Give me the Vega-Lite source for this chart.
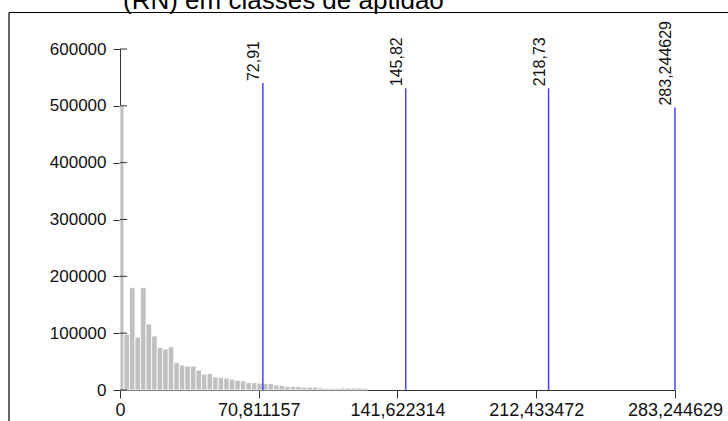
{
  "$schema": "https://vega.github.io/schema/vega-lite/v6.json",
  "width": 555,
  "height": 341,
  "autosize": {"type": "none"},
  "padding": {"left": 120, "top": 49, "right": 53, "bottom": 31},
  "background": "white",
  "config": {"view": {"stroke": null}, "font": "Liberation Sans"},
  "title": {
    "text": "(RN) em classes de aptidão",
    "font": "Liberation Sans",
    "fontSize": 26,
    "fontWeight": "normal",
    "color": "#000000",
    "anchor": "start",
    "frame": "group",
    "baseline": "alphabetic",
    "offset": 0,
    "dx": 3,
    "dy": 23
  },
  "datasets": {
    "bins": [
      {"x0": 0, "x1": 2, "count": 500000},
      {"x0": 2, "x1": 4.83, "count": 98000},
      {"x0": 4.83, "x1": 7.66, "count": 180000},
      {"x0": 7.66, "x1": 10.49, "count": 93000},
      {"x0": 10.49, "x1": 13.32, "count": 180000},
      {"x0": 13.32, "x1": 16.15, "count": 116000},
      {"x0": 16.15, "x1": 18.98, "count": 95000},
      {"x0": 18.98, "x1": 21.81, "count": 75000},
      {"x0": 21.81, "x1": 24.64, "count": 72000},
      {"x0": 24.64, "x1": 27.47, "count": 76000},
      {"x0": 27.47, "x1": 30.3, "count": 48000},
      {"x0": 30.3, "x1": 33.13, "count": 44000},
      {"x0": 33.13, "x1": 35.96, "count": 42000},
      {"x0": 35.96, "x1": 38.79, "count": 42000},
      {"x0": 38.79, "x1": 41.62, "count": 35000},
      {"x0": 41.62, "x1": 44.45, "count": 28000},
      {"x0": 44.45, "x1": 47.28, "count": 29000},
      {"x0": 47.28, "x1": 50.11, "count": 23000},
      {"x0": 50.11, "x1": 52.94, "count": 22000},
      {"x0": 52.94, "x1": 55.77, "count": 21000},
      {"x0": 55.77, "x1": 58.6, "count": 19000},
      {"x0": 58.6, "x1": 61.43, "count": 17000},
      {"x0": 61.43, "x1": 64.26, "count": 16000},
      {"x0": 64.26, "x1": 67.09, "count": 13000},
      {"x0": 67.09, "x1": 69.92, "count": 13000},
      {"x0": 69.92, "x1": 72.75, "count": 12000},
      {"x0": 72.75, "x1": 75.58, "count": 11000},
      {"x0": 75.58, "x1": 78.41, "count": 11000},
      {"x0": 78.41, "x1": 81.24, "count": 9000},
      {"x0": 81.24, "x1": 84.07, "count": 8000},
      {"x0": 84.07, "x1": 86.9, "count": 6000},
      {"x0": 86.9, "x1": 89.73, "count": 6000},
      {"x0": 89.73, "x1": 92.56, "count": 6000},
      {"x0": 92.56, "x1": 95.39, "count": 5000},
      {"x0": 95.39, "x1": 98.22, "count": 5000},
      {"x0": 98.22, "x1": 101.05, "count": 5000},
      {"x0": 101.05, "x1": 103.88, "count": 3500},
      {"x0": 103.88, "x1": 106.71, "count": 3000},
      {"x0": 106.71, "x1": 109.54, "count": 3000},
      {"x0": 109.54, "x1": 112.37, "count": 3000},
      {"x0": 112.37, "x1": 115.2, "count": 3500},
      {"x0": 115.2, "x1": 118.03, "count": 3500},
      {"x0": 118.03, "x1": 120.86, "count": 3500},
      {"x0": 120.86, "x1": 123.69, "count": 3500},
      {"x0": 123.69, "x1": 126.52, "count": 3000}
    ],
    "yticks": [
      {"v": 0}, {"v": 100000}, {"v": 200000}, {"v": 300000},
      {"v": 400000}, {"v": 500000}, {"v": 600000}
    ],
    "limits": [
      {"v": 72.91, "top": 540000, "label": "72,91"},
      {"v": 145.82, "top": 531000, "label": "145,82"},
      {"v": 218.73, "top": 531000, "label": "218,73"},
      {"v": 283.244629, "top": 497000, "label": "283,244629"}
    ],
    "frame": [
      {"fx0": -56.65, "fx1": 330, "fy0": 664200, "fy1": -100000}
    ]
  },
  "layer": [
    {
      "data": {"name": "bins"},
      "mark": {"type": "rect", "color": "#c0c0c0", "stroke": "#ffffff", "strokeWidth": 0.8},
      "encoding": {
        "x": {
          "field": "x0", "type": "quantitative",
          "scale": {"domain": [0, 283.244629], "nice": false, "zero": false},
          "axis": {
            "values": [0, 70.811157, 141.622314, 212.433472, 283.244629],
            "labelExpr": "datum.value == 0 ? '0' : replace(format(datum.value, '.6f'), '.', ',')",
            "title": null,
            "grid": false,
            "domainColor": "#333333",
            "tickColor": "#333333",
            "tickSize": 8,
            "labelPadding": 3,
            "labelFont": "Liberation Sans",
            "labelFontSize": 18,
            "labelColor": "#111111",
            "labelFlush": false,
            "labelOverlap": false
          }
        },
        "x2": {"field": "x1"},
        "y": {
          "field": "count", "type": "quantitative",
          "scale": {"domain": [0, 600000], "nice": false, "zero": false},
          "axis": {
            "values": [0, 100000, 200000, 300000, 400000, 500000, 600000],
            "format": "d",
            "title": null,
            "grid": false,
            "domainColor": "#333333",
            "tickColor": "#333333",
            "tickSize": 7,
            "labelPadding": 7,
            "labelFont": "Liberation Sans",
            "labelFontSize": 17,
            "labelColor": "#111111",
            "labelFlush": false,
            "labelOverlap": false
          }
        },
        "y2": {"datum": 0}
      }
    },
    {
      "data": {"name": "yticks"},
      "mark": {"type": "rule", "color": "#333333", "strokeWidth": 1, "clip": false},
      "encoding": {
        "x": {"datum": 0, "type": "quantitative", "scale": {"domain": [0, 283.244629], "nice": false, "zero": false}, "axis": {"title": null}},
        "y": {"field": "v", "type": "quantitative", "scale": {"domain": [0, 600000], "nice": false, "zero": false}, "axis": {"title": null}},
        "x2": {"datum": 3.6}
      }
    },
    {
      "data": {"name": "limits"},
      "mark": {"type": "rule", "color": "#4444ff", "strokeWidth": 1.5, "clip": false},
      "encoding": {
        "x": {"field": "v", "type": "quantitative", "scale": {"domain": [0, 283.244629], "nice": false, "zero": false}, "axis": {"title": null}},
        "y": {"field": "top", "type": "quantitative", "scale": {"domain": [0, 600000], "nice": false, "zero": false}, "axis": {"title": null}},
        "y2": {"datum": 0}
      }
    },
    {
      "data": {"name": "limits"},
      "mark": {"type": "text", "angle": 270, "align": "left", "baseline": "bottom", "dx": 2, "dy": -1, "font": "Liberation Sans", "fontSize": 16, "color": "#111111", "clip": false},
      "encoding": {
        "x": {"field": "v", "type": "quantitative", "scale": {"domain": [0, 283.244629], "nice": false, "zero": false}, "axis": {"title": null}},
        "y": {"field": "top", "type": "quantitative", "scale": {"domain": [0, 600000], "nice": false, "zero": false}, "axis": {"title": null}},
        "text": {"field": "label", "type": "nominal"}
      }
    },
    {
      "data": {"name": "frame"},
      "mark": {"type": "rule", "color": "#000000", "strokeWidth": 1.2, "clip": false},
      "encoding": {
        "x": {"field": "fx0", "type": "quantitative", "scale": {"domain": [0, 283.244629], "nice": false, "zero": false}, "axis": {"title": null}},
        "x2": {"field": "fx1"},
        "y": {"field": "fy0", "type": "quantitative", "scale": {"domain": [0, 600000], "nice": false, "zero": false}, "axis": {"title": null}}
      }
    },
    {
      "data": {"name": "frame"},
      "mark": {"type": "rule", "color": "#000000", "strokeWidth": 1.2, "clip": false},
      "encoding": {
        "x": {"field": "fx0", "type": "quantitative", "scale": {"domain": [0, 283.244629], "nice": false, "zero": false}, "axis": {"title": null}},
        "y": {"field": "fy0", "type": "quantitative", "scale": {"domain": [0, 600000], "nice": false, "zero": false}, "axis": {"title": null}},
        "y2": {"field": "fy1"}
      }
    }
  ]
}
